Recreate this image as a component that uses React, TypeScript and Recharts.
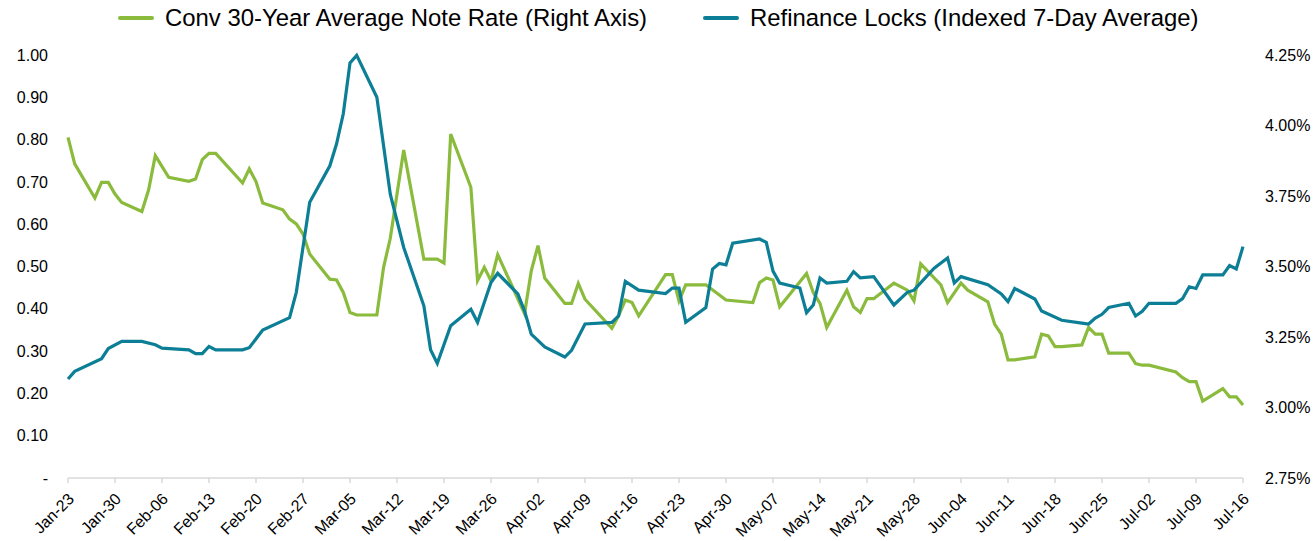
import { LineChart, Line, XAxis, YAxis } from "recharts";

// Day index 0 = Jan-23 (2020), one tick per week
const weekLabels = [
  "Jan-23", "Jan-30", "Feb-06", "Feb-13", "Feb-20", "Feb-27", "Mar-05", "Mar-12", "Mar-19",
  "Mar-26", "Apr-02", "Apr-09", "Apr-16", "Apr-23", "Apr-30", "May-07", "May-14", "May-21",
  "May-28", "Jun-04", "Jun-11", "Jun-18", "Jun-25", "Jul-02", "Jul-09", "Jul-16",
];
const weekTicks = weekLabels.map((_, i) => i * 7);

const leftTicks = [0, 0.1, 0.2, 0.3, 0.4, 0.5, 0.6, 0.7, 0.8, 0.9, 1.0];
const rightTicks = [2.75, 3.0, 3.25, 3.5, 3.75, 4.0, 4.25];

// Refinance locks, indexed 7-day average (left axis)
const lockDays = [
  0, 1, 5, 6, 8, 11, 13, 14, 18, 19, 20, 21, 22, 26, 27, 29, 33, 34, 36, 39, 40, 41, 42, 43,
  46, 48, 50, 53, 54, 55, 57, 60, 61, 63, 64, 67, 68, 69, 71, 74, 75, 77, 81, 82, 83, 85, 89,
  90, 91, 92, 95, 96, 97, 98, 99, 103, 104, 105, 106, 109, 110, 111, 112, 113, 116, 117, 118,
  120, 123, 125, 126, 129, 131, 132, 133, 137, 139, 140, 141, 144, 145, 148, 151, 152, 153,
  154, 155, 158, 159, 160, 161, 165, 166, 167, 168, 169, 172, 173, 174, 175,
];
const lockValues = [
  0.234, 0.252, 0.282, 0.306, 0.323, 0.323, 0.315, 0.307, 0.303, 0.294, 0.294, 0.311, 0.303,
  0.303, 0.308, 0.35, 0.379, 0.439, 0.652, 0.738, 0.79, 0.861, 0.981, 0.999, 0.9, 0.671, 0.545,
  0.407, 0.303, 0.271, 0.36, 0.399, 0.368, 0.462, 0.484, 0.435, 0.395, 0.34, 0.31, 0.286, 0.302,
  0.364, 0.368, 0.383, 0.465, 0.444, 0.436, 0.449, 0.449, 0.368, 0.403, 0.494, 0.507, 0.504,
  0.555, 0.565, 0.557, 0.489, 0.461, 0.449, 0.391, 0.409, 0.473, 0.461, 0.465, 0.488, 0.473,
  0.476, 0.409, 0.439, 0.444, 0.496, 0.52, 0.461, 0.476, 0.457, 0.435, 0.417, 0.448, 0.423,
  0.395, 0.373, 0.366, 0.364, 0.378, 0.387, 0.403, 0.413, 0.383, 0.394, 0.413, 0.413, 0.424,
  0.452, 0.448, 0.48, 0.48, 0.502, 0.494, 0.547,
];

// Conv 30-year average note rate, % (right axis)
const rateDays = [
  0, 1, 4, 5, 6, 7, 8, 11, 12, 13, 15, 18, 19, 20, 21, 22, 26, 27, 28, 29, 32, 33, 34, 35, 36,
  39, 40, 41, 42, 43, 46, 47, 48, 50, 53, 55, 56, 57, 60, 61, 62, 63, 64, 66, 68, 69, 70, 71,
  74, 75, 76, 77, 81, 82, 83, 84, 85, 89, 90, 91, 92, 95, 98, 102, 103, 104, 105, 106, 110,
  111, 112, 113, 116, 117, 118, 119, 120, 123, 125, 126, 127, 130, 131, 133, 134, 137, 138,
  139, 140, 141, 144, 145, 146, 147, 148, 151, 152, 153, 154, 155, 158, 159, 160, 161, 165,
  166, 167, 168, 169, 172, 173, 174, 175,
];
const rateValues = [
  3.958, 3.864, 3.743, 3.798, 3.798, 3.757, 3.727, 3.695, 3.771, 3.893, 3.816, 3.802, 3.81,
  3.879, 3.901, 3.901, 3.796, 3.846, 3.801, 3.725, 3.701, 3.668, 3.651, 3.615, 3.544, 3.455,
  3.452, 3.408, 3.337, 3.328, 3.328, 3.497, 3.6, 3.913, 3.526, 3.526, 3.512, 3.97, 3.781, 3.45,
  3.497, 3.449, 3.542, 3.438, 3.333, 3.485, 3.574, 3.459, 3.369, 3.369, 3.44, 3.384, 3.281,
  3.325, 3.381, 3.372, 3.325, 3.471, 3.471, 3.378, 3.435, 3.435, 3.381, 3.372, 3.443, 3.459,
  3.452, 3.357, 3.475, 3.408, 3.369, 3.284, 3.416, 3.357, 3.337, 3.386, 3.386, 3.441, 3.416,
  3.378, 3.509, 3.435, 3.372, 3.441, 3.416, 3.375, 3.296, 3.26, 3.169, 3.169, 3.18, 3.26, 3.254,
  3.216, 3.216, 3.222, 3.284, 3.26, 3.26, 3.193, 3.193, 3.156, 3.15, 3.15, 3.126, 3.106, 3.092,
  3.092, 3.023, 3.067, 3.038, 3.038, 3.009,
];

const GREEN = "#8ABB3C";
const BLUE = "#0C7F96";
const FONT = "'Liberation Sans', Arial, sans-serif";

const lockData = lockDays.map((day, i) => ({ day, locks: lockValues[i] }));
const rateData = rateDays.map((day, i) => ({ day, rate: rateValues[i] }));

function DateTick(props: any) {
  const { x, y, payload } = props;
  const label = weekLabels[Math.round(payload.value / 7)];
  return (
    <g transform={`translate(${x + 7},${y + 15})`}>
      <text
        x={0}
        y={0}
        transform="rotate(-45)"
        textAnchor="end"
        fontSize={16}
        fontFamily={FONT}
        fill="#000"
      >
        {label}
      </text>
    </g>
  );
}

function LegendItem({ color, label }: { color: string; label: string }) {
  return (
    <div style={{ display: "flex", alignItems: "center" }}>
      <span
        style={{
          display: "inline-block",
          width: 36,
          height: 4,
          borderRadius: 2,
          background: color,
          marginRight: 11,
        }}
      />
      <span>{label}</span>
    </div>
  );
}

export default function App() {
  return (
    <div style={{ position: "absolute", left: 0, top: 0, width: 1313, height: 541, background: "#fff" }}>
      <div
        style={{
          position: "absolute",
          top: 4,
          left: 118,
          display: "flex",
          gap: 56,
          fontFamily: FONT,
          fontSize: 23.9,
          color: "#000",
          lineHeight: "28px",
        }}
      >
        <LegendItem color={GREEN} label="Conv 30-Year Average Note Rate (Right Axis)" />
        <LegendItem color={BLUE} label="Refinance Locks (Indexed 7-Day Average)" />
      </div>
      <LineChart width={1313} height={541} margin={{ top: 55, right: 0, bottom: 0, left: 0 }}>
        <XAxis
          dataKey="day"
          type="number"
          domain={[0, 175]}
          ticks={weekTicks}
          allowDuplicatedCategory={false}
          interval={0}
          height={63}
          axisLine={{ stroke: "#d9d9d9", strokeWidth: 1.5 }}
          tickLine={{ stroke: "#d9d9d9", strokeWidth: 1.5 }}
          tickSize={5}
          tickMargin={2}
          tick={<DateTick />}
        />
        <YAxis
          yAxisId="left"
          orientation="left"
          width={68}
          domain={[0, 1]}
          ticks={leftTicks}
          interval={0}
          axisLine={false}
          tickLine={false}
          tickSize={0}
          tickMargin={20}
          tickFormatter={(v: number) => (v === 0 ? "-" : v.toFixed(2))}
          tick={{ fontSize: 16, fontFamily: FONT, fill: "#000" }}
        />
        <YAxis
          yAxisId="right"
          orientation="right"
          width={70}
          domain={[2.75, 4.25]}
          ticks={rightTicks}
          interval={0}
          axisLine={false}
          tickLine={false}
          tickSize={0}
          tickMargin={22}
          tickFormatter={(v: number) => `${v.toFixed(2)}%`}
          tick={{ fontSize: 16, fontFamily: FONT, fill: "#000" }}
        />
        <Line
          yAxisId="right"
          data={rateData}
          dataKey="rate"
          type="linear"
          stroke={GREEN}
          strokeWidth={3.2}
          dot={false}
          isAnimationActive={false}
        />
        <Line
          yAxisId="left"
          data={lockData}
          dataKey="locks"
          type="linear"
          stroke={BLUE}
          strokeWidth={3.2}
          dot={false}
          isAnimationActive={false}
        />
      </LineChart>
    </div>
  );
}
